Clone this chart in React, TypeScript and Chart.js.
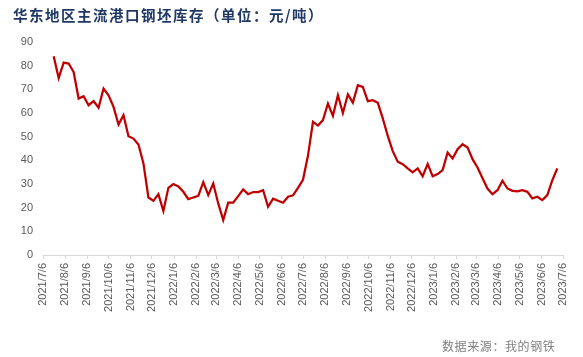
import React, { useEffect, useRef } from 'react';
import { Chart, registerables } from 'chart.js';

Chart.register(...registerables);

const TITLE = '华东地区主流港口钢坯库存（单位：元/吨）';
const SOURCE = '数据来源：我的钢铁';

const monthTickLabels = [
  '2021/7/6', '2021/8/6', '2021/9/6', '2021/10/6', '2021/11/6', '2021/12/6',
  '2022/1/6', '2022/2/6', '2022/3/6', '2022/4/6', '2022/5/6', '2022/6/6',
  '2022/7/6', '2022/8/6', '2022/9/6', '2022/10/6', '2022/11/6', '2022/12/6',
  '2023/1/6', '2023/2/6', '2023/3/6', '2023/4/6', '2023/5/6', '2023/6/6',
  '2023/7/6',
];

const firstWeekDate = '2021/7/21';

const inventory = [
  84.0, 74.8, 81.3, 80.9, 77.3, 66.1, 67.1, 63.3, 65.0, 62.2,
  70.3, 67.5, 62.6, 55.1, 59.1, 50.2, 49.2, 46.7, 38.7, 24.3,
  22.9, 25.7, 18.6, 28.4, 30.0, 29.0, 26.7, 23.6, 24.3, 25.0,
  30.8, 25.3, 30.2, 21.8, 14.8, 22.1, 22.1, 24.9, 27.7, 25.7,
  26.6, 26.6, 27.4, 20.4, 23.8, 22.9, 22.1, 24.6, 25.2, 28.4,
  31.8, 42.0, 56.3, 54.7, 57.0, 64.0, 58.8, 67.5, 60.0, 67.9,
  64.4, 71.7, 71.0, 65.0, 65.4, 64.3, 57.7, 50.3, 43.9, 39.4,
  38.4, 36.6, 34.9, 36.6, 33.3, 38.5, 33.3, 34.2, 35.9, 43.3,
  40.8, 44.7, 46.8, 45.4, 40.5, 37.0, 32.4, 28.1, 25.7, 27.4,
  31.4, 28.1, 27.1, 26.9, 27.4, 26.7, 23.9, 24.6, 23.2, 25.3,
  31.6, 36.6,
];

const yMin = 0;
const yMax = 90;
const yStep = 10;

function dayNumber(s: string): number {
  const [y, m, d] = s.split('/').map(Number);
  return Date.UTC(y, m - 1, d) / 86400000;
}

const originDay = dayNumber(monthTickLabels[0]);
const tickDays = monthTickLabels.map((l) => dayNumber(l) - originDay);
const firstDay = dayNumber(firstWeekDate) - originDay;
const points = inventory.map((v, i) => ({ x: firstDay + 7 * i, y: v }));

export default function App() {
  const ref = useRef<HTMLCanvasElement | null>(null);

  useEffect(() => {
    if (!ref.current) return;
    const chart = new Chart(ref.current, {
      type: 'line',
      data: {
        datasets: [
          {
            data: points,
            borderColor: '#C00000',
            backgroundColor: '#C00000',
            borderWidth: 2.25,
            pointRadius: 0,
            tension: 0,
            fill: false,
          },
        ],
      },
      options: {
        animation: false,
        responsive: false,
        maintainAspectRatio: false,
        layout: { padding: { top: 42, right: 20, left: 0, bottom: 0 } },
        plugins: {
          legend: { display: false },
          tooltip: { enabled: false },
          title: { display: false },
        },
        scales: {
          x: {
            type: 'linear',
            min: tickDays[0],
            max: tickDays[tickDays.length - 1],
            afterBuildTicks: (s: any) => {
              s.ticks = tickDays.map((v) => ({ value: v }));
            },
            afterFit: (s: any) => {
              s.height = 102;
            },
            ticks: {
              autoSkip: false,
              minRotation: 90,
              maxRotation: 90,
              padding: 4,
              color: '#595959',
              font: { family: 'Liberation Sans', size: 11 },
              callback: (_v: any, i: number) => monthTickLabels[i] ?? '',
            },
            grid: {
              drawOnChartArea: false,
              drawTicks: true,
              tickLength: 4,
              color: '#D9D9D9',
            },
            border: { display: true, color: '#D9D9D9' },
          },
          y: {
            min: yMin,
            max: yMax,
            afterFit: (s: any) => {
              s.width = 43;
            },
            ticks: {
              stepSize: yStep,
              padding: 10,
              color: '#595959',
              font: { family: 'Liberation Sans', size: 11 },
            },
            grid: { display: false, drawTicks: false },
            border: { display: false },
          },
        },
      },
    } as any);
    return () => chart.destroy();
  }, []);

  return (
    <div style={{ position: 'absolute', left: 0, top: 0, width: 583, height: 357, background: '#fff' }}>
      <canvas ref={ref} width={583} height={357} style={{ position: 'absolute', left: 0, top: 0 }} />
      <div
        style={{
          position: 'absolute',
          left: 13,
          top: 5,
          fontFamily: '"Noto Sans CJK SC", sans-serif',
          fontWeight: 'bold',
          fontSize: 14.5,
          letterSpacing: '1.5px',
          lineHeight: '20px',
          color: '#1F3864',
          whiteSpace: 'nowrap',
        }}
      >
        {TITLE}
      </div>
      <div
        style={{
          position: 'absolute',
          left: 442,
          top: 338,
          fontFamily: '"Noto Sans CJK SC", sans-serif',
          fontSize: 12,
          letterSpacing: '0.6px',
          lineHeight: '16px',
          color: '#7F7F7F',
          whiteSpace: 'nowrap',
        }}
      >
        {SOURCE}
      </div>
    </div>
  );
}
